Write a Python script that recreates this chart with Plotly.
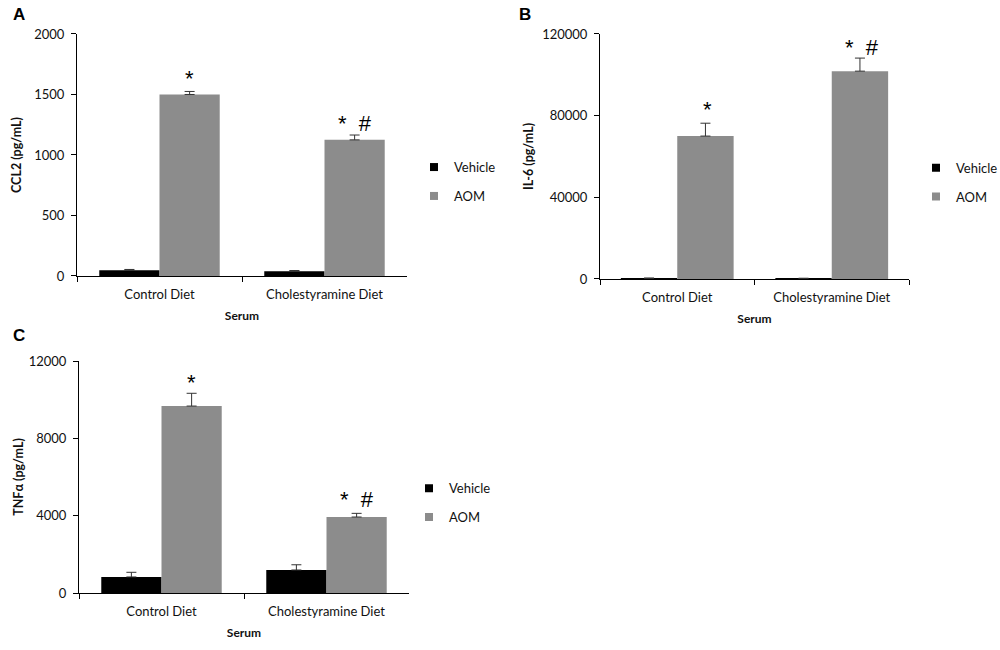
import plotly.graph_objects as go

diets = ["Control Diet", "Cholestyramine Diet"]

# panel A - CCL2
ccl2_vehicle = [48, 40]
ccl2_vehicle_err = [6, 5]
ccl2_aom = [1500, 1125]
ccl2_aom_err = [25, 40]
ccl2_marks = ["*", "*  #"]
ccl2_mark_y = [1630, 1258]

# panel B - IL-6
il6_vehicle = [150, 120]
il6_vehicle_err = [350, 250]
il6_aom = [70000, 101800]
il6_aom_err = [6300, 6400]
il6_marks = ["*", "*  #"]
il6_mark_y = [83000, 113500]

# panel C - TNFa
tnf_vehicle = [830, 1190]
tnf_vehicle_err = [240, 270]
tnf_aom = [9670, 3930]
tnf_aom_err = [660, 190]
tnf_marks = ["*", "*  #"]
tnf_mark_y = [10900, 4850]

panels = [
    dict(name="A", ytitle="CCL2 (pg/mL)", yrange=[0, 2000], ytick=[0, 500, 1000, 1500, 2000],
         veh=ccl2_vehicle, veh_err=ccl2_vehicle_err, aom=ccl2_aom, aom_err=ccl2_aom_err,
         marks=ccl2_marks, mark_y=ccl2_mark_y, ystand=9,
         xdom=[0.077, 0.407], ydom=[0.5754, 0.9477], label=(0.019, 0.977), leg=(0.414, 0.766)),
    dict(name="B", ytitle="IL-6 (pg/mL)", yrange=[0, 120000], ytick=[0, 40000, 80000, 120000],
         veh=il6_vehicle, veh_err=il6_vehicle_err, aom=il6_aom, aom_err=il6_aom_err,
         marks=il6_marks, mark_y=il6_mark_y, ystand=5,
         xdom=[0.600, 0.909], ydom=[0.5708, 0.9477], label=(0.525, 0.978), leg=(0.916, 0.765)),
    dict(name="C", ytitle="TNFα (pg/mL)", yrange=[0, 12000], ytick=[0, 4000, 8000, 12000],
         veh=tnf_vehicle, veh_err=tnf_vehicle_err, aom=tnf_aom, aom_err=tnf_aom_err,
         marks=tnf_marks, mark_y=tnf_mark_y, ystand=2,
         xdom=[0.079, 0.409], ydom=[0.0877, 0.4446], label=(0.019, 0.4846), leg=(0.409, 0.272)),
]

font = "Lato, 'Open Sans', sans-serif"
veh_color = "#000000"
aom_color = "#8c8c8c"

fig = go.Figure()
layout = dict(
    width=1000, height=650,
    margin=dict(l=0, r=0, t=0, b=0, autoexpand=False),
    paper_bgcolor="white", plot_bgcolor="white",
    barmode="group", bargap=0.27, bargroupgap=0,
    font=dict(family=font, size=13, color="#111"),
    showlegend=True,
)
annotations = []

for i, p in enumerate(panels):
    n = "" if i == 0 else str(i + 1)
    xa, ya = "x" + n, "y" + n
    leg = "legend" + n
    for vals, errs, name, color in [(p["veh"], p["veh_err"], "Vehicle", veh_color),
                                     (p["aom"], p["aom_err"], "AOM", aom_color)]:
        fig.add_trace(go.Bar(
            x=diets, y=vals, name=name, marker=dict(color=color, line_width=0),
            error_y=dict(type="data", array=errs, arrayminus=[0] * len(errs), color="#333",
                         thickness=1, width=5),
            xaxis=xa, yaxis=ya, showlegend=False))
        # small square legend key, like the original
        fig.add_trace(go.Scatter(
            x=[None], y=[None], mode="markers", name=name, legendgroup=name + n,
            marker=dict(symbol="square", size=8, color=color),
            xaxis=xa, yaxis=ya, legend=leg))

    layout["xaxis" + n] = dict(
        domain=p["xdom"], anchor=ya, showline=True, linecolor="#000", linewidth=1,
        ticks="outside", tickson="boundaries", ticklen=5, tickcolor="#000",
        ticklabelstandoff=6, showgrid=False, tickfont=dict(size=13),
        title=dict(text="<b>Serum</b>", font=dict(size=12), standoff=11),
    )
    layout["yaxis" + n] = dict(
        domain=p["ydom"], anchor=xa, range=p["yrange"], tickvals=p["ytick"],
        ticktext=[str(v) for v in p["ytick"]],
        showline=True, linecolor="#000", linewidth=1, ticks="outside", ticklen=5,
        tickcolor="#000", ticklabelstandoff=4, showgrid=False, zeroline=False,
        tickfont=dict(size=13),
        title=dict(text="<b>" + p["ytitle"] + "</b>", font=dict(size=12.5), standoff=p["ystand"]),
    )
    layout[leg] = dict(
        x=p["leg"][0], y=p["leg"][1], xref="paper", yref="paper", xanchor="left", yanchor="top",
        font=dict(size=13), bgcolor="rgba(0,0,0,0)", tracegroupgap=9, itemwidth=30,
    )

    # significance marks over AOM bars
    for d, m, my in zip(diets, p["marks"], p["mark_y"]):
        annotations.append(dict(
            x=d, y=my, xref=xa, yref=ya, text=m, showarrow=False, xshift=30,
            font=dict(size=22, family="Liberation Sans, Arial", color="#000")))

    annotations.append(dict(
        x=p["label"][0], y=p["label"][1], xref="paper", yref="paper", text="<b>" + p["name"] + "</b>",
        showarrow=False, xanchor="center", yanchor="middle",
        font=dict(size=17, family="Liberation Sans, Arial", color="#000")))

layout["annotations"] = annotations
fig.update_layout(**layout)

# the page body has an 8px default margin; drop it so the figure fills the window
fig.write_html("out.html", config={"displayModeBar": False},
               post_script="document.body.style.margin='0';")
